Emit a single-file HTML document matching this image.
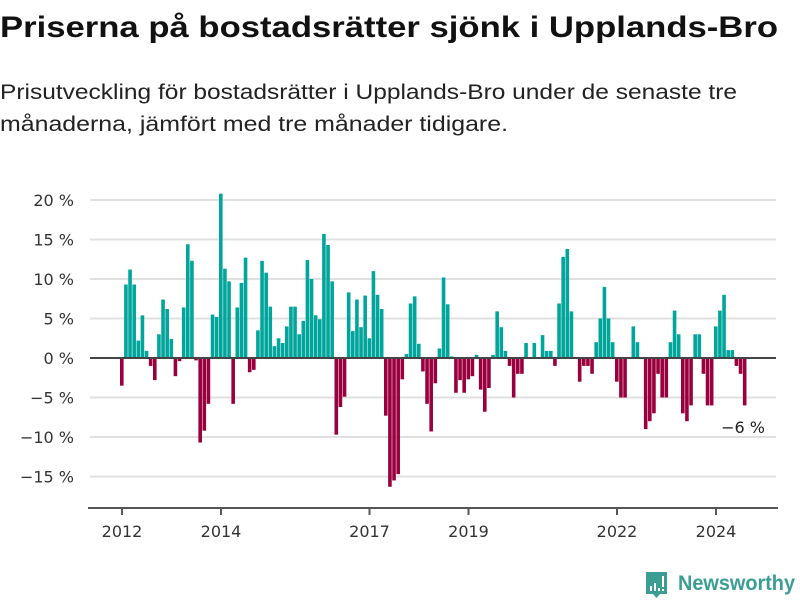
<!DOCTYPE html>
<html><head><meta charset="utf-8"><style>
body{margin:0;background:#fff;}
svg{display:block;font-family:"Liberation Sans",sans-serif;}
</style></head><body>
<svg id="chart" width="800" height="600" viewBox="0 0 800 600">
<text x="0" y="37" font-size="30" font-weight="bold" fill="#111" textLength="778" lengthAdjust="spacingAndGlyphs">Priserna på bostadsrätter sjönk i Upplands-Bro</text>
<text x="0" y="99" font-size="21" fill="#222" textLength="737" lengthAdjust="spacingAndGlyphs">Prisutveckling för bostadsrätter i Upplands-Bro under de senaste tre</text>
<text x="0" y="131" font-size="21" fill="#222" textLength="508" lengthAdjust="spacingAndGlyphs">månaderna, jämfört med tre månader tidigare.</text>
<g id="grid"></g>
<g id="bars"></g>
<g id="axes"></g>
<text x="765" y="433" font-size="16" fill="#222" text-anchor="end" font-family="DejaVu Sans, sans-serif">−6 %</text>
<g>
<path d="M646 572 h21 v22 h-7 l-3.5 4 l-3.5 -4 h-7 z" fill="#3a9e94"/>
<rect x="650" y="586" width="2" height="5" fill="#fff"/><rect x="654" y="583" width="2" height="8" fill="#fff"/><rect x="658" y="588" width="2" height="3" fill="#fff"/><rect x="662" y="576" width="2" height="11" fill="#fff"/><rect x="662" y="589" width="2" height="2" fill="#fff"/>
<text x="678" y="590" font-size="21" font-weight="bold" fill="#3a9e94" textLength="117" lengthAdjust="spacingAndGlyphs">Newsworthy</text>
</g>
</svg>
<script>
const values = [-3.5,9.3,11.2,9.3,2.2,5.4,0.9,-1,-2.8,3.0,7.4,6.2,2.4,-2.3,-0.4,6.4,14.4,12.3,-0.3,-10.7,-9.2,-5.8,5.5,5.2,20.8,11.3,9.7,-5.8,6.4,9.5,12.7,-1.8,-1.5,3.5,12.3,10.8,
6.5,1.5,2.5,1.9,4.0,6.5,6.5,3.0,4.7,12.4,10.0,5.4,4.9,15.7,14.3,9.7,-9.7,-6.2,-4.9,8.3,3.4,7.4,3.9,7.9,2.5,11.0,8.0,6.2,-7.3,-16.3,-15.5,-14.7,-2.7,0.5,6.9,7.8,1.8,-1.7,
-5.8,-9.3,-3.2,1.2,10.2,6.8,0.2,-4.4,-2.8,-4.4,-2.7,-2.3,0.4,-4.0,-6.8,-3.8,0.4,5.9,3.9,0.9,-1.0,-5.0,-2.0,-2.0,1.9,0,1.9,0,2.9,0.9,0.9,-1.0,6.9,12.8,13.8,5.9,0,-3.0,-1.0,-1.0,
-2,2,5,9,5,2,-3,-5,-5,0,4,2,0,-9,-8,-7,-2,-5,-5,2,6,3,-7,-8,-6,3,3,-2,-6,-6,4,6,8,1,1,-1,-2,-6];
const startYear = 2012;
const yTicks = [20,15,10,5,0,-5,-10,-15];
const xTickYears = [2012,2014,2017,2019,2022,2024];

const NS = "http://www.w3.org/2000/svg";
const x = t => 122 + (t - 2012) * 49.5;
const y = v => 358 - v * 7.9;
const mk = (tag, attrs, parent) => { const e = document.createElementNS(NS, tag); for (const k in attrs) e.setAttribute(k, attrs[k]); parent.appendChild(e); return e; };
const grid = document.getElementById('grid'), bars = document.getElementById('bars'), axes = document.getElementById('axes');
const lf = "DejaVu Sans, sans-serif";

yTicks.forEach(v => {
  if (v !== 0) {
    const l = mk('line', {x1: 90, x2: 776, y1: y(v), y2: y(v), stroke: '#e0e0e0', 'stroke-width': 2}, grid);
    
    
  }
  const t = mk('text', {x: 74, y: y(v) + 6, 'font-size': 16, fill: '#333', 'text-anchor': 'end', 'font-family': lf}, axes);
  t.textContent = (v < 0 ? '−' + (-v) : v) + ' %';
  
  
});

values.forEach((v, i) => {
  const t = startYear + i / 12;
  const r = mk('rect', {x: x(t) - 2, width: 3.6, y: Math.min(y(v), y(0)), height: Math.abs(y(v) - y(0)), fill: v >= 0 ? '#00a59b' : '#99003d'}, bars);
  
  
});

const zl = mk('line', {x1: 90, x2: 776, y1: y(0), y2: y(0), stroke: '#444', 'stroke-width': 2}, axes);


const xa = mk('line', {x1: 88, x2: 778, y1: 508, y2: 508, stroke: '#555', 'stroke-width': 2}, axes);


xTickYears.forEach(yr => {
  const tk = mk('line', {x1: x(yr), x2: x(yr), y1: 508, y2: 515, stroke: '#555', 'stroke-width': 2}, axes);
  
  
  const t = mk('text', {x: x(yr), y: 537, 'font-size': 16, fill: '#333', 'text-anchor': 'middle', 'font-family': lf}, axes);
  t.textContent = yr;
  
  
});
</script>
</body></html>
